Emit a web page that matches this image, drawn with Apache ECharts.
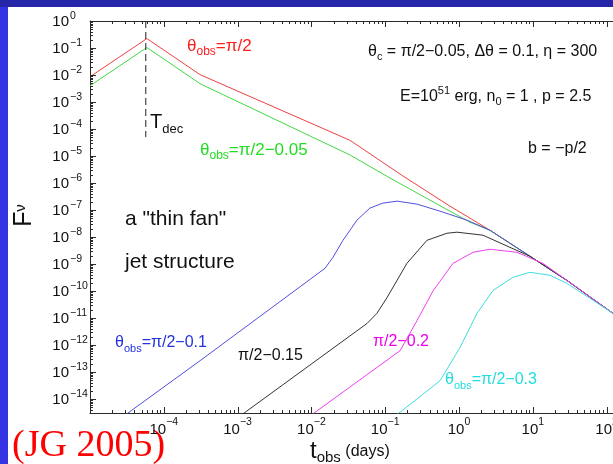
<!DOCTYPE html>
<html>
<head>
<meta charset="utf-8">
<script src="https://cdn.jsdelivr.net/npm/echarts@6/dist/echarts.min.js"></script>
<style>
  html, body { margin: 0; padding: 0; background: #ffffff; }
  #chart { width: 613px; height: 464px; }
</style>
</head>
<body>
<div id="chart"></div>
<script>
// Afterglow light curves of a "thin fan" jet: [t_obs (days), F_nu]
const fluxOnAxis = [ // theta_obs = pi/2
  [1e-5, 8.6e-3], [5.9e-5, 0.223], [3.1e-4, 1.03e-2], [3.33e-2, 3.8e-5],
  [0.174, 1.81e-6], [0.755, 1.38e-7], [2.63, 1.77e-8], [9.16, 1.92e-9],
  [29, 2.45e-10], [130, 1.3e-11]
];
const fluxOff005 = [ // theta_obs = pi/2 - 0.05
  [1e-5, 4.0e-3], [5.9e-5, 0.104], [3.1e-4, 4.75e-3], [3.33e-2, 1.09e-5],
  [0.116, 1.52e-6], [1.41, 3.5e-8], [2.63, 1.75e-8], [9.16, 1.92e-9],
  [29, 2.45e-10], [130, 1.3e-11]
];
const fluxOff01 = [ // theta_obs = pi/2 - 0.1
  [2.8e-5, 2.2e-15], [3.1e-4, 2.6e-13], [1.53e-2, 6.9e-10], [1.96e-2, 1.76e-9],
  [2.68e-2, 7.5e-9], [4.15e-2, 4.2e-8], [6.2e-2, 1.17e-7], [9.3e-2, 1.79e-7],
  [0.145, 2.12e-7], [0.27, 1.64e-7], [0.553, 9.0e-8], [1.28, 4.2e-8],
  [2.63, 1.77e-8], [9.16, 1.92e-9], [29, 2.45e-10], [130, 1.3e-11]
];
const fluxOff015 = [ // theta_obs = pi/2 - 0.15
  [1.0e-3, 2.0e-15], [5.66e-2, 6.2e-12], [7.7e-2, 1.46e-11], [0.106, 5.7e-11],
  [0.197, 1.05e-9], [0.368, 7.5e-9], [0.687, 1.37e-8], [0.94, 1.5e-8],
  [2.11, 1.16e-8], [4.91, 4.1e-9], [9.16, 1.92e-9], [29, 2.45e-10], [130, 1.3e-11]
];
const fluxOff02 = [ // theta_obs = pi/2 - 0.2
  [9e-3, 2.06e-15], [0.159, 6.1e-13], [0.27, 8.0e-12], [0.445, 1.0e-10],
  [0.83, 1.05e-9], [1.55, 2.7e-9], [2.63, 3.5e-9], [6.1, 2.7e-9],
  [13.7, 1.05e-9], [29, 2.45e-10], [130, 1.3e-11]
];
const fluxOff03 = [ // theta_obs = pi/2 - 0.3
  [0.13, 2.1e-15], [0.27, 1.0e-14], [0.553, 4.7e-14], [1.03, 7.9e-13],
  [1.75, 1.46e-11], [2.89, 1.04e-10], [5.4, 3.2e-10], [9.16, 4.9e-10],
  [17.1, 3.8e-10], [29, 1.9e-10], [59.6, 5.3e-11], [130, 1.3e-11]
];
// deceleration time marker
const tDec = 5.7e-5;
const tDecMarker = [[tDec, 1], [tDec, 5e-5]];

// axis ranges and labelled decades
const X_MIN = 1e-5, X_MAX = 1e3;
const Y_MIN = 3e-15, Y_MAX = 1;
const xLabelExponents = [-4, -3, -2, -1, 0, 1, 2];
const yLabelExponents = [0, -1, -2, -3, -4, -5, -6, -7, -8, -9, -10, -11, -12, -13, -14];

const SANS = 'Liberation Sans';
const SERIF = 'Liberation Serif';
const AXIS_COLOR = '#2a2a2a';
const TEXT_COLOR = '#111111';

const measureCtx = document.createElement('canvas').getContext('2d');
function textWidth(str, size, family) {
  measureCtx.font = size + 'px "' + (family || SANS) + '"';
  return measureCtx.measureText(str).width;
}
function expText(e) { return e < 0 ? '\u2212' + (-e) : String(e); }

// tick table: [x, y, kind, labelExponent]; kind 0/1 = x major/minor, 2/3 = y major/minor
const tickTable = [];
for (let e = -5; e <= 2; e++) {
  const base = Math.pow(10, e);
  tickTable.push([base, Y_MIN, 0, xLabelExponents.indexOf(e) >= 0 ? e : -99]);
  for (let k = 2; k <= 9; k++) tickTable.push([k * base, Y_MIN, 1, -99]);
}
for (let e = 0; e >= -15; e--) {
  const base = Math.pow(10, e);
  if (base >= Y_MIN) tickTable.push([X_MIN, base, 2, yLabelExponents.indexOf(e) >= 0 ? e : -99]);
  if (e < 0) {
    for (let k = 2; k <= 9; k++) {
      const v = k * base;
      if (v >= Y_MIN && v < Y_MAX) tickTable.push([X_MIN, v, 3, -99]);
    }
  }
}

function txt(x, y, text, size, color, family, align) {
  return {
    type: 'text', x: x, y: y, silent: true,
    style: { text: text, fontSize: size, fontFamily: family || SANS, fill: color || TEXT_COLOR,
             align: align || 'left', verticalAlign: 'middle' }
  };
}

function renderTicks(params, api) {
  const kind = api.value(2);
  const lab = api.value(3);
  const children = [];
  const stroke = { stroke: AXIS_COLOR, lineWidth: 1 };
  if (kind < 2) {
    const v = api.value(0);
    const b = api.coord([v, Y_MIN]);
    const t = api.coord([v, Y_MAX]);
    const len = kind === 0 ? 6 : 3;
    const x = Math.round(b[0]) + 0.5;
    children.push({ type: 'line', shape: { x1: x, y1: b[1], x2: x, y2: b[1] - len }, style: stroke });
    children.push({ type: 'line', shape: { x1: x, y1: t[1], x2: x, y2: t[1] + len }, style: stroke });
    if (kind === 0 && lab > -90) {
      const es = expText(lab);
      const w1 = textWidth('10', 15), w2 = textWidth(es, 10.5);
      const x0 = b[0] - (w1 + w2) / 2;
      children.push(txt(x0, b[1] + 17, '10', 15));
      children.push(txt(x0 + w1, b[1] + 9, es, 10.5));
    }
  } else {
    const v = api.value(1);
    const p = api.coord([X_MIN, v]);
    const len = kind === 2 ? 6 : 3;
    const y = Math.round(p[1]) + 0.5;
    children.push({ type: 'line', shape: { x1: p[0], y1: y, x2: p[0] + len, y2: y }, style: stroke });
    if (kind === 2 && lab > -90) {
      children.push(txt(p[0] - 21, p[1] + 1, '10', 15, TEXT_COLOR, SANS, 'right'));
      children.push(txt(p[0] - 20, p[1] - 5, expText(lab), 10.5));
    }
  }
  return { type: 'group', children: children };
}

// text made of runs with their own size and vertical offset (sub/superscripts)
function runs(x, y, parts, color, family) {
  let cx = x;
  const children = [];
  parts.forEach(function (p) {
    children.push(txt(cx, y + (p[2] || 0), p[0], p[1], color, family));
    cx += textWidth(p[0], p[1], family);
  });
  return { type: 'group', z: 10, children: children };
}

function curve(name, data, color) {
  return {
    name: name, type: 'line', data: data, showSymbol: false, symbol: 'none',
    lineStyle: { color: color, width: 1 }, silent: true, clip: true, z: 3
  };
}

const chart = echarts.init(document.getElementById('chart'), null, { renderer: 'canvas' });

const axisBase = {
  type: 'log', logBase: 10,
  axisTick: { show: false }, axisLabel: { show: false }, splitLine: { show: false },
  axisLine: { show: true, onZero: false, lineStyle: { color: AXIS_COLOR, width: 1 } }
};

chart.setOption({
  animation: false,
  backgroundColor: '#ffffff',
  grid: { left: 90, top: 21, width: 590.4, height: 392, containLabel: false, outerBoundsMode: 'none' },
  xAxis: [
    Object.assign({}, axisBase, { min: X_MIN, max: X_MAX, position: 'bottom' }),
    Object.assign({}, axisBase, { min: X_MIN, max: X_MAX, position: 'top' })
  ],
  yAxis: [
    Object.assign({}, axisBase, { min: Y_MIN, max: Y_MAX, position: 'left' })
  ],
  series: [
    curve('pi/2', fluxOnAxis, '#ee4040'),
    curve('pi/2-0.05', fluxOff005, '#40d840'),
    curve('pi/2-0.1', fluxOff01, '#5050dd'),
    curve('pi/2-0.15', fluxOff015, '#333333'),
    curve('pi/2-0.2', fluxOff02, '#ee40ee'),
    curve('pi/2-0.3', fluxOff03, '#40dddd'),
    {
      name: 'T_dec', type: 'line', data: tDecMarker, showSymbol: false, symbol: 'none',
      lineStyle: { color: '#222222', width: 1, type: [7, 4] }, silent: true, z: 3
    },
    {
      name: 'ticks', type: 'custom', data: tickTable, renderItem: renderTicks,
      encode: { x: 0, y: 1 }, silent: true, clip: false, z: 5
    }
  ],
  graphic: [
    // slide frame
    { type: 'rect', z: -5, silent: true, shape: { x: 0, y: 0, width: 8, height: 464 }, style: { fill: '#3434e4' } },
    { type: 'rect', z: -4, silent: true, shape: { x: 0, y: 0, width: 613, height: 7 }, style: { fill: '#2626a8' } },
    // curve annotations
    runs(187, 46, [['\u03b8', 17], ['obs', 12, 6], ['=\u03c0/2', 17]], '#ff1c1c'),
    runs(200, 150, [['\u03b8', 17], ['obs', 12, 6], ['=\u03c0/2\u22120.05', 17]], '#22dd22'),
    runs(150, 122, [['T', 20], ['dec', 13, 7]], TEXT_COLOR),
    runs(368, 52, [['\u03b8', 16], ['c', 11, 5], [' = \u03c0/2\u22120.05, \u0394\u03b8 = 0.1, \u03b7 = 300', 16]], TEXT_COLOR),
    runs(400, 97, [['E=10', 16], ['51', 11, -6], [' erg, n', 16], ['0', 11, 5], [' = 1 , p = 2.5', 16]], TEXT_COLOR),
    runs(528, 149, [['b = \u2212p/2', 16]], TEXT_COLOR),
    runs(125, 219, [['a "thin fan"', 21]], TEXT_COLOR),
    runs(125, 262, [['jet structure', 21]], TEXT_COLOR),
    runs(115, 343, [['\u03b8', 16], ['obs', 11, 6], ['=\u03c0/2\u22120.1', 16]], '#2233dd'),
    runs(238, 356, [['\u03c0/2\u22120.15', 16]], TEXT_COLOR),
    runs(373, 342, [['\u03c0/2\u22120.2', 16]], '#ee00ee'),
    runs(445, 380, [['\u03b8', 16], ['obs', 11, 6], ['=\u03c0/2\u22120.3', 16]], '#22dddd'),
    // axis titles
    {
      type: 'group', z: 10, children: [
        { type: 'text', x: 24, y: 219, rotation: Math.PI / 2, silent: true,
          style: { text: 'F', fontSize: 25, fontFamily: SANS, fill: TEXT_COLOR, align: 'center', verticalAlign: 'middle' } },
        { type: 'text', x: 21, y: 208, rotation: Math.PI / 2, silent: true,
          style: { text: '\u03bd', fontSize: 15, fontFamily: SANS, fill: TEXT_COLOR, align: 'center', verticalAlign: 'middle' } }
      ]
    },
    runs(310, 451, [['t', 24], ['obs', 15, 7], [' (days)', 16, 1]], TEXT_COLOR),
    // citation
    { type: 'text', z: 1, x: 12, y: 446, silent: true,
      style: { text: '(JG 2005)', fontSize: 38, fontFamily: SERIF, fill: '#ff0000', align: 'left', verticalAlign: 'middle' } }
  ]
});
</script>
</body>
</html>
